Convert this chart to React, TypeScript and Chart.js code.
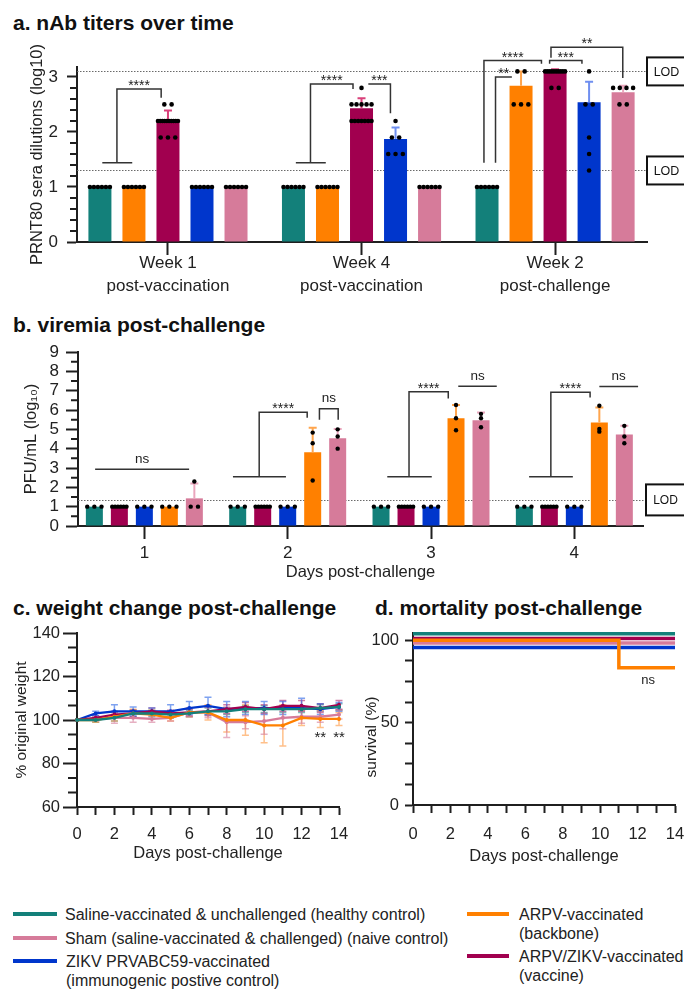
import React, { useEffect, useRef } from 'react';
import { Chart, registerables } from 'chart.js';

Chart.register(...registerables);

const FONT = "'Liberation Sans', Arial, Helvetica, sans-serif";
Chart.defaults.font.family = FONT;
Chart.defaults.color = '#222';

const TEAL = '#13807a';
const ORANGE = '#ff8000';
const MAROON = '#a1004f';
const BLUE = '#0036cc';
const PINK = '#d67b9a';
const AXIS = '#1f1f1f';

// ---------------- series names ----------------
const labelSaline = ['Saline-vaccinated & unchallenged (healthy control)'];
const labelSham = ['Sham (saline-vaccinated & challenged) (naive control)'];
const labelZikv = ['ZIKV PRVABC59-vaccinated', '(immunogenic postive control)'];
const labelArpv = ['ARPV-vaccinated', '(backbone)'];
const labelVaccine = ['ARPV/ZIKV-vaccinated', '(vaccine)'];

// ---------------- a. nAb titers ----------------
const nabGroups = [['Week 1', 'post-vaccination'], ['Week 4', 'post-vaccination'], ['Week 2', 'post-challenge']];
const nabYTicks = [0, 1, 2, 3];
const nabSaline = [1, 1, 1];
const nabSalineSd = [0, 0, 0];
const nabArpv = [1, 1, 2.84];
const nabArpvSd = [0, 0, 0.26];
const nabVaccine = [2.22, 2.43, 3.1];
const nabVaccineSd = [0.17, 0.18, 0.04];
const nabZikv = [1, 1.87, 2.54];
const nabZikvSd = [0, 0.21, 0.37];
const nabSham = [1, 1, 2.72];
const nabShamSd = [0, 0, 0.12];
const nabSalineDots = [[1, 1, 1, 1, 1, 1], [1, 1, 1, 1, 1, 1], [1, 1, 1, 1, 1, 1]];
const nabArpvDots = [[1, 1, 1, 1, 1, 1], [1, 1, 1, 1, 1, 1], [3.1, 3.1, 2.5, 2.5, 2.5]];
const nabVaccineDots = [
  [2.5, 2.5, 2.2, 2.2, 2.2, 2.2, 2.2, 2.2, 2.2, 2.2, 2.2, 2.2, 1.9, 1.9, 1.9],
  [2.8, 2.5, 2.5, 2.5, 2.5, 2.5, 2.2, 2.2, 2.2, 2.2, 2.2, 2.2, 2.2],
  [3.1, 3.1, 3.1, 3.1, 3.1, 3.1, 3.1, 3.1, 3.1, 3.1, 2.8, 2.8],
];
const nabZikvDots = [[1, 1, 1, 1, 1, 1], [2.2, 1.9, 1.9, 1.6, 1.6, 1.6], [3.1, 2.5, 2.5, 1.9, 1.6, 1.3]];
const nabShamDots = [[1, 1, 1, 1, 1, 1], [1, 1, 1, 1, 1, 1], [2.8, 2.8, 2.8, 2.8, 2.5, 2.5]];
const nabLod = [3.1, 1.3];
const nabBrackets = [
  { g: 0, x1: 0.5, x2: 1.8, y: 2.78, drop1: 1.44, drop2: 2.62, tbar: [0.07, 0.95], label: '****' },
  { g: 1, x1: 0.5, x2: 1.75, y: 2.87, drop1: 1.44, drop2: 2.78, tbar: [0.07, 0.95], label: '****' },
  { g: 1, x1: 2.2, x2: 2.85, y: 2.87, drop2: 2.34, label: '***' },
  { g: 2, x1: -0.09, x2: 1.6, y: 3.3, drop1: 1.44, drop2: 3.24, label: '****' },
  { g: 2, x1: 0.25, x2: 0.73, y: 3.0, drop1: 1.44, label: '**' },
  { g: 2, x1: 1.84, x2: 2.79, y: 3.3, drop1: 3.24, drop2: 3.24, label: '***' },
  { g: 2, x1: 1.88, x2: 3.99, y: 3.54, drop1: 3.35, drop2: 2.98, label: '**' },
];

// ---------------- b. viremia ----------------
const viremiaDays = ['1', '2', '3', '4'];
const viremiaYTicks = [0, 1, 2, 3, 4, 5, 6, 7, 8, 9];
const viremiaSaline = [1, 1, 1, 1];
const viremiaVaccine = [1, 1, 1, 1];
const viremiaZikv = [1, 1, 1, 1];
const viremiaArpv = [1, 3.82, 5.57, 5.35];
const viremiaArpvSd = [0, 1.26, 0.69, 0.78];
const viremiaSham = [1.43, 4.54, 5.47, 4.73];
const viremiaShamSd = [0.77, 0.48, 0.4, 0.45];
const viremiaSalineDots = [[1, 1, 1], [1, 1, 1], [1, 1, 1], [1, 1, 1]];
const viremiaVaccineDots = [[1, 1, 1, 1, 1, 1], [1, 1, 1, 1, 1, 1], [1, 1, 1, 1, 1, 1], [1, 1, 1, 1, 1, 1]];
const viremiaZikvDots = [[1, 1, 1], [1, 1, 1], [1, 1, 1], [1, 1, 1]];
const viremiaArpvDots = [[1, 1, 1], [4.83, 4.28, 2.35], [6.26, 5.57, 4.95], [6.22, 5.02, 4.88]];
const viremiaShamDots = [[2.3, 1, 1], [5.0, 4.63, 4.0], [5.8, 5.57, 5.11], [5.18, 4.63, 4.28]];
const viremiaLod = [1.35];
const viremiaBrackets = [
  { g: 0, x1: 0.03, x2: 3.79, y: 2.93, label: 'ns' },
  { g: 1, x1: 0.86, x2: 2.78, y: 5.89, drop1: 2.55, drop2: 5.6, tbar: [-0.19, 1.93], label: '****' },
  { g: 1, x1: 3.27, x2: 4.02, y: 6.06, drop1: 5.5, drop2: 5.5, label: 'ns' },
  { g: 2, x1: 1.12, x2: 2.69, y: 6.94, drop1: 2.55, drop2: 6.6, tbar: [0.25, 2.03], label: '****' },
  { g: 2, x1: 3.09, x2: 4.63, y: 7.23, label: 'ns' },
  { g: 3, x1: 1.06, x2: 2.63, y: 6.92, drop1: 2.55, drop2: 6.65, tbar: [0.19, 1.94], label: '****' },
  { g: 3, x1: 3.0, x2: 4.55, y: 7.22, label: 'ns' },
];

// ---------------- c. weight ----------------
const weightDays = [0, 1, 2, 3, 4, 5, 6, 7, 8, 9, 10, 11, 12, 13, 14];
const weightYTicks = [60, 80, 100, 120, 140];
const weightSaline = [100, 100, 101, 103, 103, 102.5, 103, 104, 104, 105, 105, 105, 105, 105.5, 106];
const weightSalineSd = [0, 1, 1.5, 1.5, 1.5, 1.5, 1.5, 1.5, 1.5, 1.5, 1.5, 1.5, 1.5, 1.5, 1.5];
const weightSham = [100, 100.5, 101, 101, 100.5, 101, 103.5, 103.5, 99, 99, 99.5, 101, 101.5, 101.5, 102.5];
const weightShamSd = [0, 1, 2.5, 2, 1.5, 1.5, 2, 2.5, 7, 3, 6, 5, 3, 2.5, 2];
const weightZikv = [100, 103, 104, 104, 104, 104, 105.5, 106.5, 105, 105.5, 105.5, 105.5, 105.5, 105, 106];
const weightZikvSd = [0, 1, 3, 2, 1.5, 3, 3, 4, 3.5, 3, 3, 3, 4.5, 2.5, 2];
const weightArpv = [100, 100, 101.5, 103, 102.5, 101, 103.5, 103.5, 100, 100, 97.5, 97.5, 101, 100.5, 100.5];
const weightArpvSd = [0, 1, 2, 2, 2, 1.5, 2, 3.5, 5.5, 7, 8, 9.5, 3.5, 4, 3];
const weightVaccine = [100, 101, 102.5, 103, 104, 103, 103.5, 104, 105, 106, 105, 106.5, 106.5, 105.5, 107];
const weightVaccineSd = [0, 1, 1.5, 1.5, 1.5, 1.5, 1.5, 2, 2, 2, 2, 2.5, 2.5, 2, 2];
const weightNotes = [
  { x: 13, y: 93.7, text: '**' },
  { x: 14, y: 93.7, text: '**' },
];

// ---------------- d. survival ----------------
const survivalDays = [0, 11, 14];
const survivalYTicks = [0, 12.5, 25, 37.5, 50, 62.5, 75, 87.5, 100];
const survivalSaline = [100, 100, 100];
const survivalSham = [100, 100, 100];
const survivalZikv = [100, 100, 100];
const survivalArpv = [100, 83.3, 83.3];
const survivalVaccine = [100, 100, 100];
const survivalNotes = [{ x: 12.56, y: 75.3, text: 'ns' }];

const DAY_TICKS = [0, 1, 2, 3, 4, 5, 6, 7, 8, 9, 10, 11, 12, 13, 14];

// ---------------- plugins ----------------
function glyphBase(text: string, size: number) {
  return text.includes('*') ? 0.57 * size : 0.26 * size;
}

function errorPlugin(o: any) {
  const draw = (chart: any) => {
    const ctx = chart.ctx;
    const ys = chart.scales.y;
    chart.data.datasets.forEach((ds: any, i: number) => {
      if (!ds.sd) return;
      const meta = chart.getDatasetMeta(i);
      ctx.save();
      ctx.strokeStyle = ds.errColor;
      ctx.lineWidth = o.width;
      ctx.beginPath();
      meta.data.forEach((el: any, j: number) => {
        const sd = ds.sd[j];
        if (!sd) return;
        const m = ds.data[j].y;
        const x = el.x;
        const yTop = ys.getPixelForValue(m + sd);
        const yBot = ys.getPixelForValue(o.both ? m - sd : m);
        ctx.moveTo(x, yBot);
        ctx.lineTo(x, yTop);
        ctx.moveTo(x - o.cap, yTop);
        ctx.lineTo(x + o.cap, yTop);
        if (o.both) {
          ctx.moveTo(x - o.cap, yBot);
          ctx.lineTo(x + o.cap, yBot);
        }
      });
      ctx.stroke();
      ctx.restore();
    });
  };
  return {
    id: 'errorBars',
    beforeDatasetsDraw(chart: any) { if (o.layer === 'before') draw(chart); },
    afterDatasetsDraw(chart: any) { if (o.layer === 'after') draw(chart); },
  };
}

function dotsPlugin(o: any) {
  return {
    id: 'dots',
    afterDatasetsDraw(chart: any) {
      const ctx = chart.ctx;
      const ys = chart.scales.y;
      ctx.save();
      ctx.fillStyle = '#000';
      chart.data.datasets.forEach((ds: any, i: number) => {
        if (!ds.dots) return;
        const meta = chart.getDatasetMeta(i);
        meta.data.forEach((bar: any, j: number) => {
          const vals: number[] = ds.dots[j] || [];
          const groups = new Map<number, number>();
          vals.forEach((v) => groups.set(v, (groups.get(v) || 0) + 1));
          groups.forEach((n, v) => {
            const span = bar.width - o.inset;
            const step = n > 1 ? Math.min(o.maxStep, span / (n - 1)) : 0;
            const y = ys.getPixelForValue(v);
            for (let k = 0; k < n; k++) {
              const x = bar.x + (k - (n - 1) / 2) * step;
              ctx.beginPath();
              ctx.arc(x, y, o.radius, 0, Math.PI * 2);
              ctx.fill();
            }
          });
        });
      });
      ctx.restore();
    },
  };
}

function lodPlugin(o: any) {
  return {
    id: 'lod',
    beforeDatasetsDraw(chart: any) {
      const ctx = chart.ctx;
      const ys = chart.scales.y;
      const a = chart.chartArea;
      ctx.save();
      ctx.strokeStyle = '#6a6a6a';
      ctx.lineWidth = 1;
      ctx.setLineDash([1.5, 1.5]);
      o.values.forEach((v: number) => {
        const y = Math.round(ys.getPixelForValue(v)) + 0.5;
        ctx.beginPath();
        ctx.moveTo(a.left, y);
        ctx.lineTo(a.right + o.gap, y);
        ctx.stroke();
      });
      ctx.restore();
    },
    afterDraw(chart: any) {
      const ctx = chart.ctx;
      const ys = chart.scales.y;
      const a = chart.chartArea;
      ctx.save();
      ctx.strokeStyle = '#111';
      ctx.lineWidth = 2;
      ctx.fillStyle = '#111';
      ctx.font = `${o.fontSize}px ${FONT}`;
      ctx.textAlign = 'center';
      ctx.textBaseline = 'middle';
      o.values.forEach((v: number) => {
        const y = ys.getPixelForValue(v);
        const left = a.right + o.gap;
        ctx.strokeRect(left, y - o.boxH / 2, 80, o.boxH);
        ctx.fillText('LOD', left + 19.5, y + 1);
      });
      ctx.restore();
    },
  };
}

function minorPlugin(o: any) {
  return {
    id: 'minorTicks',
    afterDraw(chart: any) {
      const ys = chart.scales.y;
      const ctx = chart.ctx;
      const left = chart.chartArea.left;
      ctx.save();
      ctx.strokeStyle = AXIS;
      ctx.lineWidth = o.width;
      ctx.beginPath();
      for (let k = 1; k < 1000; k++) {
        const v = ys.min + (k * o.step) / o.sub;
        if (v > ys.max + 1e-9) break;
        if (k % o.sub === 0) continue;
        const y = ys.getPixelForValue(v);
        ctx.moveTo(left - o.length, y);
        ctx.lineTo(left, y);
      }
      ctx.stroke();
      ctx.restore();
    },
  };
}

function bracketsPlugin(items: any[], o: any) {
  return {
    id: 'brackets',
    afterDraw(chart: any) {
      const ctx = chart.ctx;
      const ys = chart.scales.y;
      const m0 = chart.getDatasetMeta(0);
      const m1 = chart.getDatasetMeta(1);
      ctx.save();
      ctx.strokeStyle = '#333';
      ctx.lineWidth = o.width;
      ctx.fillStyle = '#222';
      ctx.textAlign = 'center';
      ctx.textBaseline = 'alphabetic';
      items.forEach((b: any) => {
        const x0 = m0.data[b.g].x;
        const dx = m1.data[b.g].x - x0;
        const px = (s: number) => x0 + s * dx;
        const py = (v: number) => ys.getPixelForValue(v);
        const xa = px(b.x1);
        const xb = px(b.x2);
        const yt = py(b.y);
        ctx.beginPath();
        if (b.drop1 != null) {
          ctx.moveTo(xa, py(b.drop1));
          ctx.lineTo(xa, yt);
        } else ctx.moveTo(xa, yt);
        ctx.lineTo(xb, yt);
        if (b.drop2 != null) ctx.lineTo(xb, py(b.drop2));
        if (b.tbar && b.drop1 != null) {
          ctx.moveTo(px(b.tbar[0]), py(b.drop1));
          ctx.lineTo(px(b.tbar[1]), py(b.drop1));
        }
        ctx.stroke();
        const star = b.label.includes('*');
        const size = star ? o.starSize : o.nsSize;
        ctx.font = `${size}px ${FONT}`;
        const cy = yt - (star ? o.starGap : o.nsGap);
        ctx.fillText(b.label, (xa + xb) / 2, cy + glyphBase(b.label, size));
      });
      ctx.restore();
    },
  };
}

function notesPlugin(items: any[], size: number) {
  return {
    id: 'notes',
    afterDraw(chart: any) {
      const ctx = chart.ctx;
      ctx.save();
      ctx.fillStyle = '#222';
      ctx.textAlign = 'center';
      ctx.textBaseline = 'alphabetic';
      ctx.font = `${size}px ${FONT}`;
      items.forEach((n: any) => {
        const x = chart.scales.x.getPixelForValue(n.x);
        const y = chart.scales.y.getPixelForValue(n.y);
        ctx.fillText(n.text, x, y + glyphBase(n.text, size));
      });
      ctx.restore();
    },
  };
}

// y-axis title placed at a fixed spot beside the axis (used where the original label is off-centre)
function sideTitlePlugin(o: any) {
  return {
    id: 'sideTitle',
    afterDraw(chart: any) {
      const ctx = chart.ctx;
      ctx.save();
      ctx.fillStyle = '#222';
      ctx.font = `${o.size}px ${FONT}`;
      ctx.textAlign = 'center';
      ctx.textBaseline = 'middle';
      ctx.translate(o.x, o.y);
      ctx.rotate(-Math.PI / 2);
      ctx.fillText(o.text, 0, 0);
      ctx.restore();
    },
  };
}

const shiftPlugin = {
  id: 'shift',
  beforeDatasetDraw(chart: any, args: any) {
    const ds = chart.data.datasets[args.index];
    if (ds.yShift) {
      chart.ctx.save();
      chart.ctx.translate(0, ds.yShift);
    }
  },
  afterDatasetDraw(chart: any, args: any) {
    const ds = chart.data.datasets[args.index];
    if (ds.yShift) chart.ctx.restore();
  },
};

// ---------------- scale helpers ----------------
function yScale(p: any) {
  return {
    type: 'linear',
    min: p.min,
    max: p.max,
    afterBuildTicks: (s: any) => { s.ticks = p.ticks.map((v: number) => ({ value: v })); },
    afterFit: (s: any) => { s.width = p.width; s.paddingTop = 0; s.paddingBottom = 0; },
    border: { display: true, color: AXIS, width: 2 },
    grid: { display: true, drawOnChartArea: false, drawTicks: true, tickLength: p.tickLength, tickWidth: 2, tickColor: AXIS },
    ticks: {
      font: { size: p.fontSize },
      padding: p.padding,
      color: '#222',
      autoSkip: false,
      callback: p.label || ((v: number) => String(v)),
    },
    title: p.title
      ? { display: true, text: p.title, font: { size: p.titleSize }, padding: 0, color: '#222' }
      : { display: false },
  };
}

function xScale(p: any) {
  return {
    type: 'linear',
    min: p.min,
    max: p.max,
    offset: false,
    afterBuildTicks: (s: any) => { s.ticks = p.ticks.map((v: number) => ({ value: v })); },
    afterFit: (s: any) => { s.height = p.height; s.paddingLeft = 0; s.paddingRight = 0; },
    border: { display: true, color: AXIS, width: 2 },
    grid: { display: true, offset: false, drawOnChartArea: false, drawTicks: true, tickLength: p.tickLength, tickWidth: 2, tickColor: AXIS },
    ticks: {
      font: { size: p.fontSize, lineHeight: p.lineHeight || 1.2 },
      padding: p.padding,
      color: '#222',
      autoSkip: false,
      maxRotation: 0,
      minRotation: 0,
      callback: p.label,
    },
    title: p.title
      ? { display: true, text: p.title, font: { size: p.titleSize }, padding: 0, color: '#222' }
      : { display: false },
  };
}

const baseOptions = {
  animation: false,
  responsive: false,
  maintainAspectRatio: false,
  events: [],
  plugins: { legend: { display: false }, tooltip: { enabled: false }, title: { display: false } },
};

function barDatasets(series: any[]) {
  return series.map((s) => ({
    label: s.label.join(' '),
    data: s.values.map((v: number, i: number) => ({ x: i + 1, y: v })),
    backgroundColor: s.color,
    borderWidth: 0,
    sd: s.sd,
    dots: s.dots,
    errColor: s.err,
  }));
}

// ---------------- chart builders ----------------
function makeNab(canvas: HTMLCanvasElement) {
  return new Chart(canvas, {
    type: 'bar',
    data: {
      datasets: barDatasets([
        { label: labelSaline, values: nabSaline, sd: nabSalineSd, dots: nabSalineDots, color: TEAL, err: '#5fb3ad' },
        { label: labelArpv, values: nabArpv, sd: nabArpvSd, dots: nabArpvDots, color: ORANGE, err: '#ffa54d' },
        { label: labelVaccine, values: nabVaccine, sd: nabVaccineSd, dots: nabVaccineDots, color: MAROON, err: '#d9407a' },
        { label: labelZikv, values: nabZikv, sd: nabZikvSd, dots: nabZikvDots, color: BLUE, err: '#6f8ff0' },
        { label: labelSham, values: nabSham, sd: nabShamSd, dots: nabShamDots, color: PINK, err: '#eaa6bd' },
      ]),
    },
    options: {
      ...baseOptions,
      layout: { padding: { left: 28, right: 37, top: 37, bottom: 3 } },
      datasets: { bar: { categoryPercentage: 0.879, barPercentage: 0.676 } },
      scales: {
        x: xScale({
          min: 0.53, max: 3.475, ticks: [1, 2, 3], height: 60, tickLength: 13, fontSize: 17, lineHeight: 1.4, padding: -4,
          label: (v: number) => nabGroups[Math.round(v) - 1],
        }),
        y: yScale({
          min: 0, max: 3.18, ticks: nabYTicks, width: 49, tickLength: 10, fontSize: 17, padding: 9,
          title: 'PRNT80 sera dilutions (log10)', titleSize: 16.5,
        }),
      },
    } as any,
    plugins: [
      lodPlugin({ values: nabLod, gap: 0, boxH: 28, fontSize: 12.5 }),
      errorPlugin({ layer: 'after', width: 2, cap: 4, both: false }),
      dotsPlugin({ radius: 2.3, inset: 3, maxStep: 7.3 }),
      minorPlugin({ step: 1, sub: 5, length: 7, width: 2 }),
      bracketsPlugin(nabBrackets, { width: 1.5, starSize: 14, nsSize: 13.5, starGap: 6.7, nsGap: 10 }),
    ],
  } as any);
}

function makeViremia(canvas: HTMLCanvasElement) {
  return new Chart(canvas, {
    type: 'bar',
    data: {
      datasets: barDatasets([
        { label: labelSaline, values: viremiaSaline, dots: viremiaSalineDots, color: TEAL, err: '#5fb3ad' },
        { label: labelVaccine, values: viremiaVaccine, dots: viremiaVaccineDots, color: MAROON, err: '#d9407a' },
        { label: labelZikv, values: viremiaZikv, dots: viremiaZikvDots, color: BLUE, err: '#6f8ff0' },
        { label: labelArpv, values: viremiaArpv, sd: viremiaArpvSd, dots: viremiaArpvDots, color: ORANGE, err: '#ffa54d' },
        { label: labelSham, values: viremiaSham, sd: viremiaShamSd, dots: viremiaShamDots, color: PINK, err: '#eaa6bd' },
      ]),
    },
    options: {
      ...baseOptions,
      layout: { padding: { left: 22, right: 41, top: 17, bottom: 8 } },
      datasets: { bar: { categoryPercentage: 0.872, barPercentage: 0.68 } },
      scales: {
        x: xScale({
          min: 0.537, max: 4.479, ticks: [1, 2, 3, 4], height: 56, tickLength: 13, fontSize: 17, padding: 4,
          label: (v: number) => viremiaDays[Math.round(v) - 1],
          title: 'Days post-challenge', titleSize: 16.5,
        }),
        y: yScale({
          min: 0, max: 9, ticks: viremiaYTicks, width: 56, tickLength: 12, fontSize: 17, padding: 7,
          title: 'PFU/mL (log\u2081\u2080)', titleSize: 16.5,
        }),
      },
    } as any,
    plugins: [
      lodPlugin({ values: viremiaLod, gap: 3, boxH: 31, fontSize: 12 }),
      errorPlugin({ layer: 'after', width: 2, cap: 4, both: false }),
      dotsPlugin({ radius: 2.2, inset: 2.7, maxStep: 7.3 }),
      minorPlugin({ step: 1, sub: 2, length: 7, width: 2 }),
      bracketsPlugin(viremiaBrackets, { width: 1.5, starSize: 14, nsSize: 13.5, starGap: 6.7, nsGap: 10 }),
    ],
  } as any);
}

function lineSet(label: string[], days: number[], values: number[], color: string, extra: any) {
  return {
    label: label.join(' '),
    data: values.map((v, i) => ({ x: days[i], y: v })),
    borderColor: color,
    backgroundColor: color,
    ...extra,
  };
}

function makeWeight(canvas: HTMLCanvasElement) {
  const common = { borderWidth: 2.3, pointRadius: 2, pointBorderWidth: 0, tension: 0, clip: false };
  return new Chart(canvas, {
    type: 'line',
    data: {
      datasets: [
        lineSet(labelSaline, weightDays, weightSaline, TEAL, { ...common, sd: weightSalineSd, errColor: 'rgba(19,128,122,0.55)' }),
        lineSet(labelArpv, weightDays, weightArpv, ORANGE, { ...common, sd: weightArpvSd, errColor: 'rgba(255,150,60,0.6)' }),
        lineSet(labelVaccine, weightDays, weightVaccine, MAROON, { ...common, sd: weightVaccineSd, errColor: 'rgba(161,0,79,0.5)' }),
        lineSet(labelZikv, weightDays, weightZikv, BLUE, { ...common, sd: weightZikvSd, errColor: 'rgba(40,100,230,0.6)' }),
        lineSet(labelSham, weightDays, weightSham, PINK, { ...common, sd: weightShamSd, errColor: 'rgba(214,123,154,0.6)' }),
      ],
    },
    options: {
      ...baseOptions,
      layout: { padding: { left: 12, right: 11, top: 13, bottom: 7 } },
      scales: {
        x: xScale({
          min: 0, max: 14, ticks: DAY_TICKS, height: 56, tickLength: 8, fontSize: 16.5, padding: 10,
          label: (v: number) => (v % 2 === 0 ? String(v) : ''),
          title: 'Days post-challenge', titleSize: 16.5,
        }),
        y: yScale({
          min: 60, max: 140, ticks: weightYTicks, width: 65, tickLength: 14, fontSize: 16.5, padding: 3,
          title: '% original weight', titleSize: 15.5,
        }),
      },
    } as any,
    plugins: [
      errorPlugin({ layer: 'before', width: 1.5, cap: 3.5, both: true }),
      minorPlugin({ step: 20, sub: 3, length: 9, width: 2 }),
      notesPlugin(weightNotes, 15),
    ],
  } as any);
}

function makeSurvival(canvas: HTMLCanvasElement) {
  const common = { borderWidth: 3.5, pointRadius: 0, stepped: 'before', clip: false };
  return new Chart(canvas, {
    type: 'line',
    data: {
      datasets: [
        lineSet(labelArpv, survivalDays, survivalArpv, ORANGE, { ...common, yShift: 0 }),
        lineSet(labelVaccine, survivalDays, survivalVaccine, MAROON, { ...common, yShift: -1.7 }),
        lineSet(labelSham, survivalDays, survivalSham, PINK, { ...common, yShift: 2.7 }),
        lineSet(labelSaline, survivalDays, survivalSaline, TEAL, { ...common, yShift: -6.6 }),
        lineSet(labelZikv, survivalDays, survivalZikv, BLUE, { ...common, yShift: 7.3 }),
      ],
    },
    options: {
      ...baseOptions,
      layout: { padding: { left: 13, right: 9, top: 13, bottom: 4 } },
      scales: {
        x: xScale({
          min: 0, max: 14, ticks: DAY_TICKS, height: 61, tickLength: 8, fontSize: 16.5, padding: 12,
          label: (v: number) => (v % 2 === 0 ? String(v) : ''),
          title: 'Days post-challenge', titleSize: 16.5,
        }),
        y: yScale({
          min: 0, max: 104.4, ticks: survivalYTicks, width: 50, tickLength: 8, fontSize: 16.5, padding: 6,
          label: (v: number) => (v % 50 === 0 ? String(v) : ''),
        }),
      },
    } as any,
    plugins: [
      shiftPlugin,
      notesPlugin(survivalNotes, 13),
      sideTitlePlugin({ text: 'survival (%)', x: 22, y: 117, size: 15.5 }),
    ],
  } as any);
}

// ---------------- components ----------------
function ChartBox(props: { left: number; top: number; width: number; height: number; make: (c: HTMLCanvasElement) => Chart }) {
  const ref = useRef<HTMLCanvasElement>(null);
  useEffect(() => {
    const chart = props.make(ref.current as HTMLCanvasElement);
    return () => chart.destroy();
  }, []);
  return (
    <canvas
      ref={ref}
      width={props.width}
      height={props.height}
      style={{ position: 'absolute', left: props.left, top: props.top, width: props.width, height: props.height }}
    />
  );
}

function PanelTitle(props: { left: number; top: number; text: string }) {
  return (
    <div
      style={{
        position: 'absolute', left: props.left, top: props.top, fontSize: 21, fontWeight: 'bold',
        lineHeight: '24px', whiteSpace: 'nowrap', color: '#111', fontFamily: FONT,
      }}
    >
      {props.text}
    </div>
  );
}

function LegendItem(props: { swatchLeft: number; swatchWidth: number; textLeft: number; y: number; color: string; lines: string[] }) {
  return (
    <>
      <div style={{ position: 'absolute', left: props.swatchLeft, top: props.y - 2, width: props.swatchWidth, height: 4, background: props.color }} />
      <div
        style={{
          position: 'absolute', left: props.textLeft, top: props.y - 9.5, fontSize: 16, lineHeight: '19px',
          whiteSpace: 'nowrap', color: '#222', fontFamily: FONT,
        }}
      >
        {props.lines.map((l, i) => (
          <div key={i}>{l}</div>
        ))}
      </div>
    </>
  );
}

export default function App() {
  return (
    <div
      style={{
        position: 'absolute', left: 0, top: 0, width: 684, height: 989, background: '#fff',
        overflow: 'hidden', fontFamily: FONT,
      }}
    >
      <PanelTitle left={13} top={11} text="a. nAb titers over time" />
      <ChartBox left={0} top={30} width={684} height={275} make={makeNab} />

      <PanelTitle left={13} top={313} text="b. viremia post-challenge" />
      <ChartBox left={0} top={335} width={684} height={255} make={makeViremia} />

      <PanelTitle left={13} top={596} text="c. weight change post-challenge" />
      <ChartBox left={0} top={620} width={350} height={250} make={makeWeight} />

      <PanelTitle left={375} top={596} text="d. mortality post-challenge" />
      <ChartBox left={350} top={620} width={334} height={250} make={makeSurvival} />

      <LegendItem swatchLeft={13} swatchWidth={44} textLeft={65} y={914} color={TEAL} lines={labelSaline} />
      <LegendItem swatchLeft={13} swatchWidth={44} textLeft={65} y={938} color={PINK} lines={labelSham} />
      <LegendItem swatchLeft={13} swatchWidth={44} textLeft={66} y={961} color={BLUE} lines={labelZikv} />
      <LegendItem swatchLeft={467} swatchWidth={42} textLeft={519} y={914} color={ORANGE} lines={labelArpv} />
      <LegendItem swatchLeft={467} swatchWidth={42} textLeft={519} y={956} color={MAROON} lines={labelVaccine} />
    </div>
  );
}
